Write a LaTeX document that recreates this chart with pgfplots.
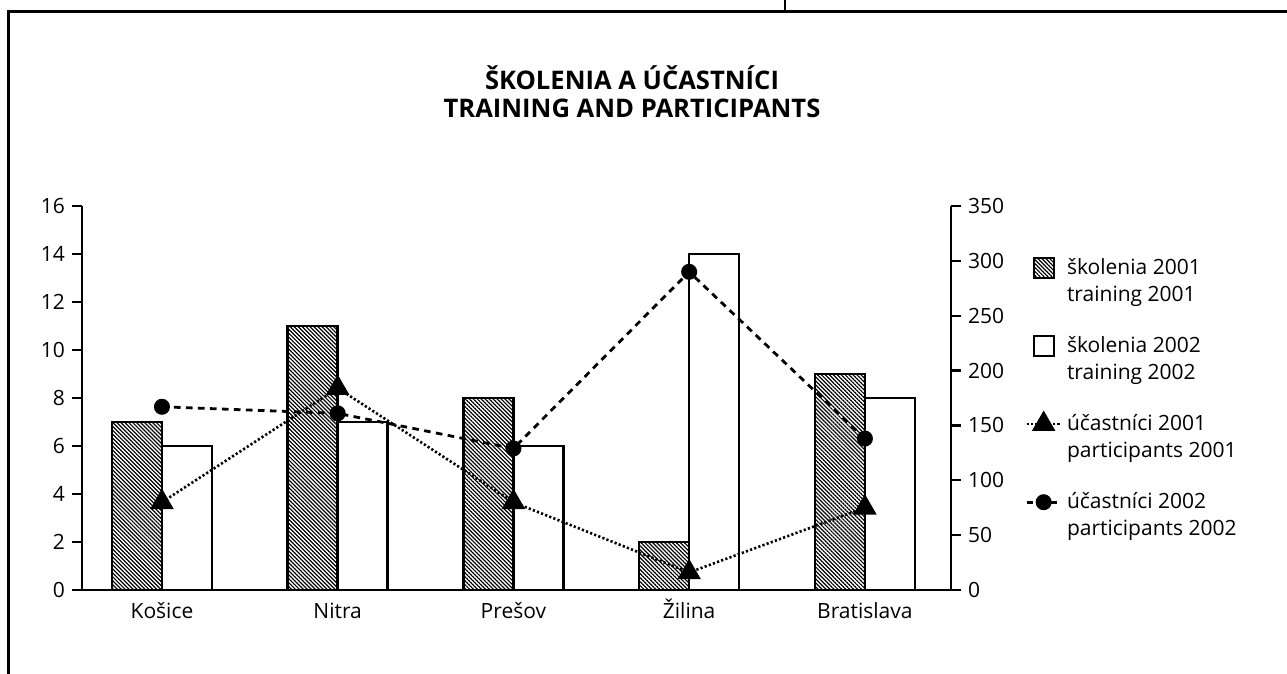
\documentclass[border=0pt]{standalone}
\usepackage{fontspec}
\setmainfont{Open Sans}
\usepackage{pgfplots}
\pgfplotsset{compat=1.18}
\usetikzlibrary{patterns.meta}

\tikzset{
  hatch/.style={pattern={Lines[angle=-45,distance=1.4pt,line width=0.6pt]}},
  dotline/.style={line width=1.3pt, dash pattern=on 1.1pt off 1.1pt},
  dashline/.style={line width=1.4pt, dash pattern=on 3.3pt off 2.7pt},
}

\pgfplotsset{
  frame axis/.style={
    at={(41pt,-295pt)}, anchor=south west,
    scale only axis, width=434.5pt, height=192pt,
    xmin=-0.455, xmax=4.49,
    tick align=outside, major tick length=5pt,
    every tick/.style={black, line width=1.2pt},
    axis line style={line width=1.25pt},
    tick label style={font=\fontsize{10.5}{12}\selectfont},
    /pgf/number format/assume math mode=true,
  },
  lineleg/.style={legend image code/.code={
    \draw[mark repeat=2, mark phase=2, ##1] plot coordinates {
      (-3.5pt,6.75pt) (5pt,6.75pt) (13.5pt,6.75pt)};}},
  boxleg/.style={legend image code/.code={
    \draw[black, line width=1pt, #1] (0pt,1.75pt) rectangle (10pt,11.75pt);}},
}

\begin{document}
\begin{tikzpicture}
\begin{scope}[x=0.5pt,y=-0.5pt]
  \useasboundingbox (0,0) rectangle (1287,674);
  \draw[line width=1.5pt] (8,674) -- (8,12) -- (1287,12);
  \draw[line width=0.7pt] (785,0) -- (785,12);
  \node[font=\bfseries\fontsize{12.8}{14}\selectfont, align=center] at (632,92)
    {ŠKOLENIA A ÚČASTNÍCI\\TRAINING AND PARTICIPANTS};
\end{scope}

% school trainings (left axis)
\begin{axis}[
  frame axis,
  ymin=0, ymax=16,
  axis x line*=bottom, axis y line*=left,
  ybar=0pt, bar width=25pt,
  xtick={0,...,4},
  xticklabels={Košice,Nitra,Prešov,Žilina,Bratislava},
  x tick style={draw=none},
  xticklabel style={text height=2.1ex, text depth=0.3ex, yshift=5.5pt},
  ytick={0,2,...,16},
]
\addplot[draw=black, line width=1.3pt, hatch] coordinates {
  (0,7) (1,11) (2,8) (3,2) (4,9) };
\addplot[draw=black, fill=white, line width=1.3pt] coordinates {
  (0,6) (1,7) (2,6) (3,14) (4,8) };
\end{axis}

% participants (right axis)
\begin{axis}[
  frame axis,
  ymin=0, ymax=350,
  axis x line=none, axis y line*=right,
  ytick={0,50,...,350},
  clip=false,
  legend style={draw=none, fill=none, at={(1.085,0.875)}, anchor=north west,
    inner sep=0pt, row sep=12pt, column sep=0.5pt,
    font=\fontsize{10.5}{13.5}\selectfont,
    cells={anchor=west, align=left}},
]
\addlegendimage{boxleg=hatch}
\addlegendentry{školenia 2001\\training 2001}
\addlegendimage{boxleg={fill=white}}
\addlegendentry{školenia 2002\\training 2002}

\addplot[black, dotline, mark=triangle*, mark size=5.5pt,
  mark options={solid, fill=black}, lineleg]
  coordinates { (0,80) (1,184) (2,80) (3,16) (4,75) };
\addlegendentry{účastníci 2001\\participants 2001}

\addplot[black, dashline, mark=*, mark size=3.3pt,
  mark options={solid, fill=black}, lineleg]
  coordinates { (0,167) (1,161) (2,129) (3,290) (4,138) };
\addlegendentry{účastníci 2002\\participants 2002}
\end{axis}
\end{tikzpicture}
\end{document}
